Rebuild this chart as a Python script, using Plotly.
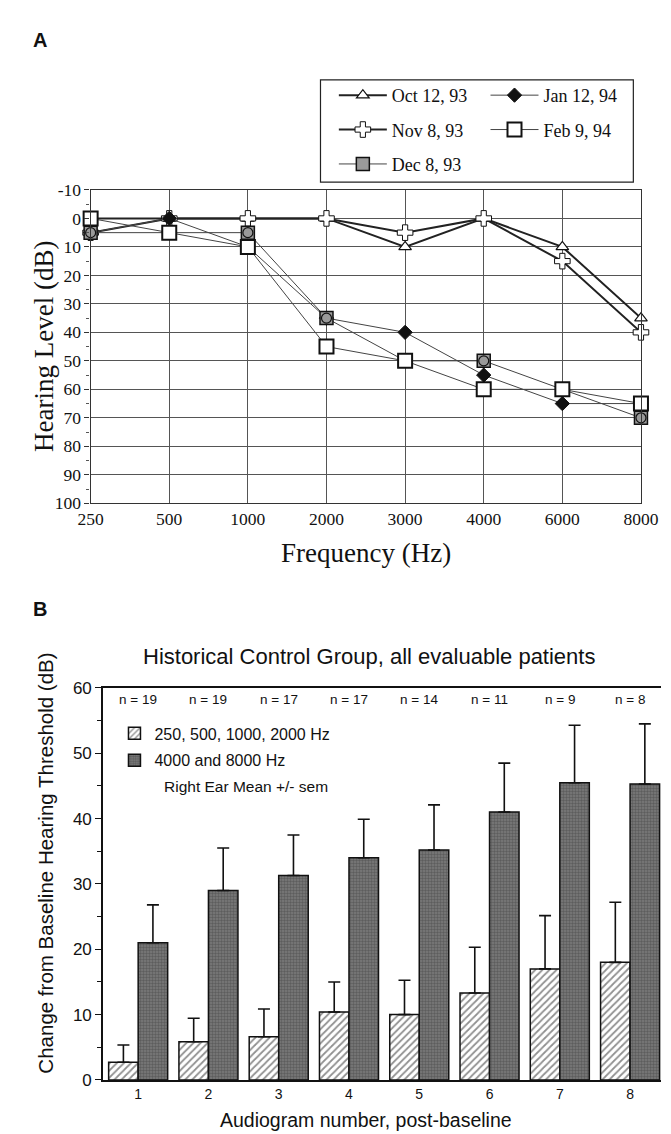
import plotly.graph_objects as go

W, H = 671, 1134

# ---------------- Panel A data ----------------
freq_labels = ["250", "500", "1000", "2000", "3000", "4000", "6000", "8000"]
oct_12_93 = [0, 0, 0, 0, 10, 0, 10, 35]
nov_8_93 = [5, 0, 0, 0, 5, 0, 15, 40]
dec_8_93 = [5, 5, 5, 35, 50, 50, 60, 70]
jan_12_94 = [5, 0, 10, 35, 40, 55, 65, 65]
feb_9_94 = [0, 5, 10, 45, 50, 60, 60, 65]
hl_tick_vals = [-10, 0, 10, 20, 30, 40, 50, 60, 70, 80, 90, 100]
hl_tick_text = ["-10", "0", "10", "20", "30", "40", "50", "60", "70", "80", "90", "100"]

# ---------------- Panel B data ----------------
audiogram = ["1", "2", "3", "4", "5", "6", "7", "8"]
n_patients = [19, 19, 17, 17, 14, 11, 9, 8]
low_freq_mean = [2.7, 5.85, 6.6, 10.4, 10.0, 13.3, 17.0, 18.0]
low_freq_sem = [2.65, 3.6, 4.25, 4.6, 5.25, 7.0, 8.15, 9.2]
high_freq_mean = [21.0, 29.0, 31.3, 34.0, 35.2, 41.0, 45.5, 45.3]
high_freq_sem = [5.8, 6.5, 6.2, 5.9, 6.9, 7.5, 8.8, 9.2]
n_label_level = 58.2


def px(x):
    return x / W


def py(y):
    return 1 - y / H


SERIF = "Liberation Serif, Times New Roman, serif"
SANS = "Liberation Sans, Arial, Helvetica, sans-serif"

fig = go.Figure()

dark_line = dict(color="#222222", width=2)
thin_line = dict(color="#444444", width=1)

fig.add_trace(go.Scatter(
    x=freq_labels, y=oct_12_93, name="Oct 12, 93", mode="lines+markers",
    line=dark_line, legend="legend", legendgroup="oct",
    marker=dict(symbol="triangle-up", size=11, color="white",
                line=dict(color="#111", width=1.2)),
    cliponaxis=False, xaxis="x", yaxis="y"))
fig.add_trace(go.Scatter(
    x=freq_labels, y=nov_8_93, name="Nov 8, 93", mode="lines+markers",
    line=dark_line, legend="legend", legendgroup="nov",
    marker=dict(symbol="cross", size=13, color="white",
                line=dict(color="#111", width=1)),
    cliponaxis=False, xaxis="x", yaxis="y"))
fig.add_trace(go.Scatter(
    x=freq_labels, y=jan_12_94, name="Jan 12, 94", mode="lines+markers",
    line=thin_line, legend="legend2", legendgroup="jan",
    marker=dict(symbol="diamond", size=11, color="#111",
                line=dict(color="#111", width=1)),
    cliponaxis=False, xaxis="x", yaxis="y"))
fig.add_trace(go.Scatter(
    x=freq_labels, y=dec_8_93, name="Dec 8, 93", mode="lines+markers",
    line=thin_line, legend="legend", legendgroup="dec",
    marker=dict(symbol="square", size=13, color="#9a9a9a",
                line=dict(color="#111", width=1.5)),
    cliponaxis=False, xaxis="x", yaxis="y"))
fig.add_trace(go.Scatter(
    x=freq_labels, y=dec_8_93, name="Dec 8, 93", mode="markers",
    legend="legend", legendgroup="dec", showlegend=False,
    marker=dict(symbol="circle-open", size=10, color="#111",
                line=dict(color="#111", width=1.2)),
    cliponaxis=False, xaxis="x", yaxis="y", hoverinfo="skip"))
fig.add_trace(go.Scatter(
    x=freq_labels, y=feb_9_94, name="Feb 9, 94", mode="lines+markers",
    line=thin_line, legend="legend2", legendgroup="feb",
    marker=dict(symbol="square", size=14, color="white",
                line=dict(color="#111", width=2)),
    cliponaxis=False, xaxis="x", yaxis="y"))

# ---------------- Panel B bars ----------------
fig.add_trace(go.Bar(
    x=audiogram, y=low_freq_mean, name="250, 500, 1000, 2000 Hz",
    legendgroup="low",
    marker=dict(color="white", line=dict(color="#111", width=1.5),
                pattern=dict(shape="/", fgcolor="#222", bgcolor="white",
                             size=5, solidity=0.35)),
    error_y=dict(type="data", array=low_freq_sem, symmetric=False,
                 arrayminus=[0] * len(low_freq_sem),
                 color="#111", thickness=1.6, width=6),
    legend="legend3", xaxis="x2", yaxis="y2"))
fig.add_trace(go.Bar(
    x=audiogram, y=high_freq_mean, name="4000 and 8000 Hz",
    legendgroup="high",
    marker=dict(color="#6a6a6a", line=dict(color="#111", width=1.5),
                pattern=dict(shape=".", fgcolor="#3c3c3c", bgcolor="#7c7c7c",
                             size=3, solidity=0.5)),
    error_y=dict(type="data", array=high_freq_sem, symmetric=False,
                 arrayminus=[0] * len(high_freq_sem),
                 color="#111", thickness=1.6, width=6),
    legend="legend3", xaxis="x2", yaxis="y2"))

annotations = []
for i, n in enumerate(n_patients):
    annotations.append(dict(
        x=i, y=n_label_level, xref="x2", yref="y2", text=f"n = {n}",
        showarrow=False, font=dict(family=SANS, size=13.5, color="#111")))

annotations += [
    dict(x=px(11), y=py(22), xref="paper", yref="paper", text="<b>A</b>",
         showarrow=False, xanchor="left", yanchor="middle",
         font=dict(family=SANS, size=20, color="#111")),
    dict(x=px(11), y=py(602), xref="paper", yref="paper", text="<b>B</b>",
         showarrow=False, xanchor="left", yanchor="middle",
         font=dict(family=SANS, size=20, color="#111")),
    dict(x=px(24), y=py(334), xref="paper", yref="paper",
         text="Hearing Level (dB)", textangle=-90, showarrow=False,
         xanchor="center", yanchor="middle",
         font=dict(family=SERIF, size=27, color="#111")),
    dict(x=px(362), y=py(545), xref="paper", yref="paper",
         text="Frequency (Hz)", showarrow=False,
         xanchor="center", yanchor="middle",
         font=dict(family=SERIF, size=27, color="#111")),
    dict(x=px(365), y=py(650), xref="paper", yref="paper",
         text="Historical Control Group, all evaluable patients",
         showarrow=False, xanchor="center", yanchor="middle",
         font=dict(family=SANS, size=22, color="#111")),
    dict(x=px(26), y=py(860), xref="paper", yref="paper",
         text="Change from Baseline Hearing Threshold (dB)", textangle=-90,
         showarrow=False, xanchor="center", yanchor="middle",
         font=dict(family=SANS, size=20.5, color="#111")),
    dict(x=px(362), y=py(1122), xref="paper", yref="paper",
         text="Audiogram number, post-baseline", showarrow=False,
         xanchor="center", yanchor="middle",
         font=dict(family=SANS, size=19.5, color="#111")),
    dict(x=px(148), y=py(782), xref="paper", yref="paper",
         text="Right Ear Mean +/- sem", showarrow=False,
         xanchor="left", yanchor="middle",
         font=dict(family=SANS, size=15.5, color="#111")),
]

shapes = [
    dict(type="rect", xref="paper", yref="paper",
         x0=px(314), x1=px(642), y0=py(167), y1=py(63),
         line=dict(color="#222", width=1.2), fillcolor="rgba(0,0,0,0)"),
]

fig.update_layout(
    width=W, height=H,
    margin=dict(l=0, r=0, t=0, b=0),
    paper_bgcolor="white", plot_bgcolor="white",
    showlegend=True,
    barmode="group", bargap=0.16, bargroupgap=0.0,
    annotations=annotations, shapes=shapes,
    xaxis=dict(
        domain=[px(73), px(650)], anchor="y", type="category",
        range=[0, 7], showgrid=True, gridcolor="#555", gridwidth=1,
        showline=True, mirror=True, linecolor="#333", linewidth=1.3,
        ticks="", tickfont=dict(family=SERIF, size=17.5, color="#111"),
        zeroline=False, fixedrange=True),
    yaxis=dict(
        domain=[py(494), py(175)], anchor="x",
        range=[100, -10], tickvals=hl_tick_vals, ticktext=hl_tick_text,
        showgrid=True, gridcolor="#555", gridwidth=1,
        showline=True, mirror=True, linecolor="#333", linewidth=1.3,
        ticks="outside", ticklen=5, tickcolor="#333",
        minor=dict(dtick=5, ticks="outside", ticklen=3, tickcolor="#555", showgrid=False),
        tickfont=dict(family=SERIF, size=17.5, color="#111"),
        zeroline=False, fixedrange=True),
    xaxis2=dict(
        domain=[px(86), 1.0], anchor="y2", type="category",
        range=[-0.5, 7.44], showgrid=False,
        showline=True, mirror=True, linecolor="#111", linewidth=1.6,
        ticks="", tickfont=dict(family=SANS, size=14, color="#111"),
        zeroline=False, fixedrange=True),
    yaxis2=dict(
        domain=[py(1081), py(682)], anchor="x2",
        range=[0, 60], dtick=10, showgrid=False,
        showline=True, linecolor="#111", linewidth=1.6,
        ticks="outside", ticklen=6, tickcolor="#111", tickwidth=1.3,
        minor=dict(dtick=5, ticks="outside", ticklen=4, tickcolor="#111"),
        tickfont=dict(family=SANS, size=17, color="#111"),
        zeroline=False, fixedrange=True),
    legend=dict(
        x=px(328), y=py(60), xanchor="left", yanchor="top",
        bgcolor="rgba(0,0,0,0)", borderwidth=0, tracegroupgap=8,
        itemwidth=48, font=dict(family=SERIF, size=18, color="#111")),
    legend2=dict(
        x=px(487), y=py(60), xanchor="left", yanchor="top",
        bgcolor="rgba(0,0,0,0)", borderwidth=0, tracegroupgap=8,
        itemwidth=48, font=dict(family=SERIF, size=18, color="#111")),
    legend3=dict(
        x=px(98), y=py(711), xanchor="left", yanchor="top",
        bgcolor="rgba(0,0,0,0)", borderwidth=0, tracegroupgap=3,
        font=dict(family=SANS, size=16, color="#111")),
)

fig.write_html("out.html")
